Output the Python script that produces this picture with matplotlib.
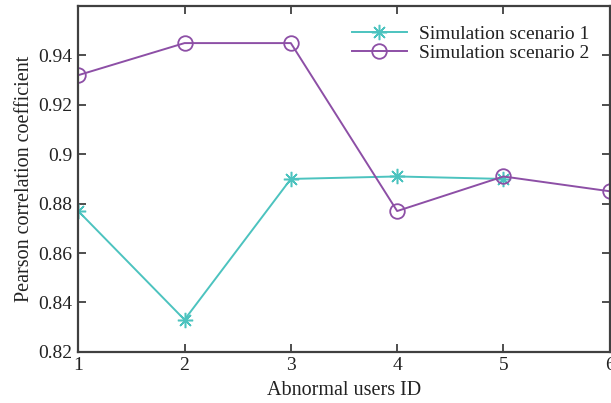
import matplotlib
matplotlib.use("Agg")
import matplotlib.pyplot as plt

# data
ids_1 = [1, 2, 3, 4, 5]
scenario_1 = [0.877, 0.833, 0.890, 0.891, 0.890]
ids_2 = [1, 2, 3, 4, 5, 6]
scenario_2 = [0.932, 0.945, 0.945, 0.877, 0.891, 0.885]
x_ticks = [1, 2, 3, 4, 5, 6]
y_ticks = [0.82, 0.84, 0.86, 0.88, 0.90, 0.92, 0.94]
y_tick_labels = ["0.82", "0.84", "0.86", "0.88", "0.9", "0.92", "0.94"]

C1 = "#4cc3bf"
C2 = "#8d4fa6"
AX = "#404040"
TXT = "#222222"

plt.rcParams["font.family"] = ["Liberation Serif", "DejaVu Serif"]

fig = plt.figure(figsize=(6.11, 4.03), dpi=100)
ax = fig.add_axes([0.128, 0.127, 0.87, 0.858])

# 8-armed asterisk like the original
ax.plot(ids_1, scenario_1, color=C1, lw=1.4, marker=(8, 2, 0), markersize=11,
        markeredgewidth=1.1, label="Simulation scenario 1")
ax.plot(ids_2, scenario_2, color=C2, lw=1.4, marker="o", markersize=10.5,
        markerfacecolor="none", markeredgewidth=1.3,
        label="Simulation scenario 2")

ax.set_xlim(1, 6)
ax.set_ylim(0.82, 0.96)
ax.set_xticks(x_ticks)
ax.set_yticks(y_ticks)
ax.set_yticklabels(y_tick_labels)

for s in ax.spines.values():
    s.set_color(AX)
    s.set_linewidth(1.6)
ax.tick_params(direction="in", length=6, width=1.3, color=AX,
               top=True, right=True, labelsize=14, labelcolor=TXT, pad=4)

ax.set_xlabel("Abnormal users ID", fontsize=14.5, color=TXT, labelpad=5)
ax.set_ylabel("Pearson correlation coefficient", fontsize=14.5,
              color=TXT, labelpad=3)

ax.legend(loc="upper right", frameon=False, fontsize=14,
          handlelength=2.8, handletextpad=0.65, labelspacing=0.05,
          borderaxespad=0, borderpad=0,
          bbox_to_anchor=(0.962, 0.944), labelcolor=TXT)

fig.savefig("out.png", dpi=100)
